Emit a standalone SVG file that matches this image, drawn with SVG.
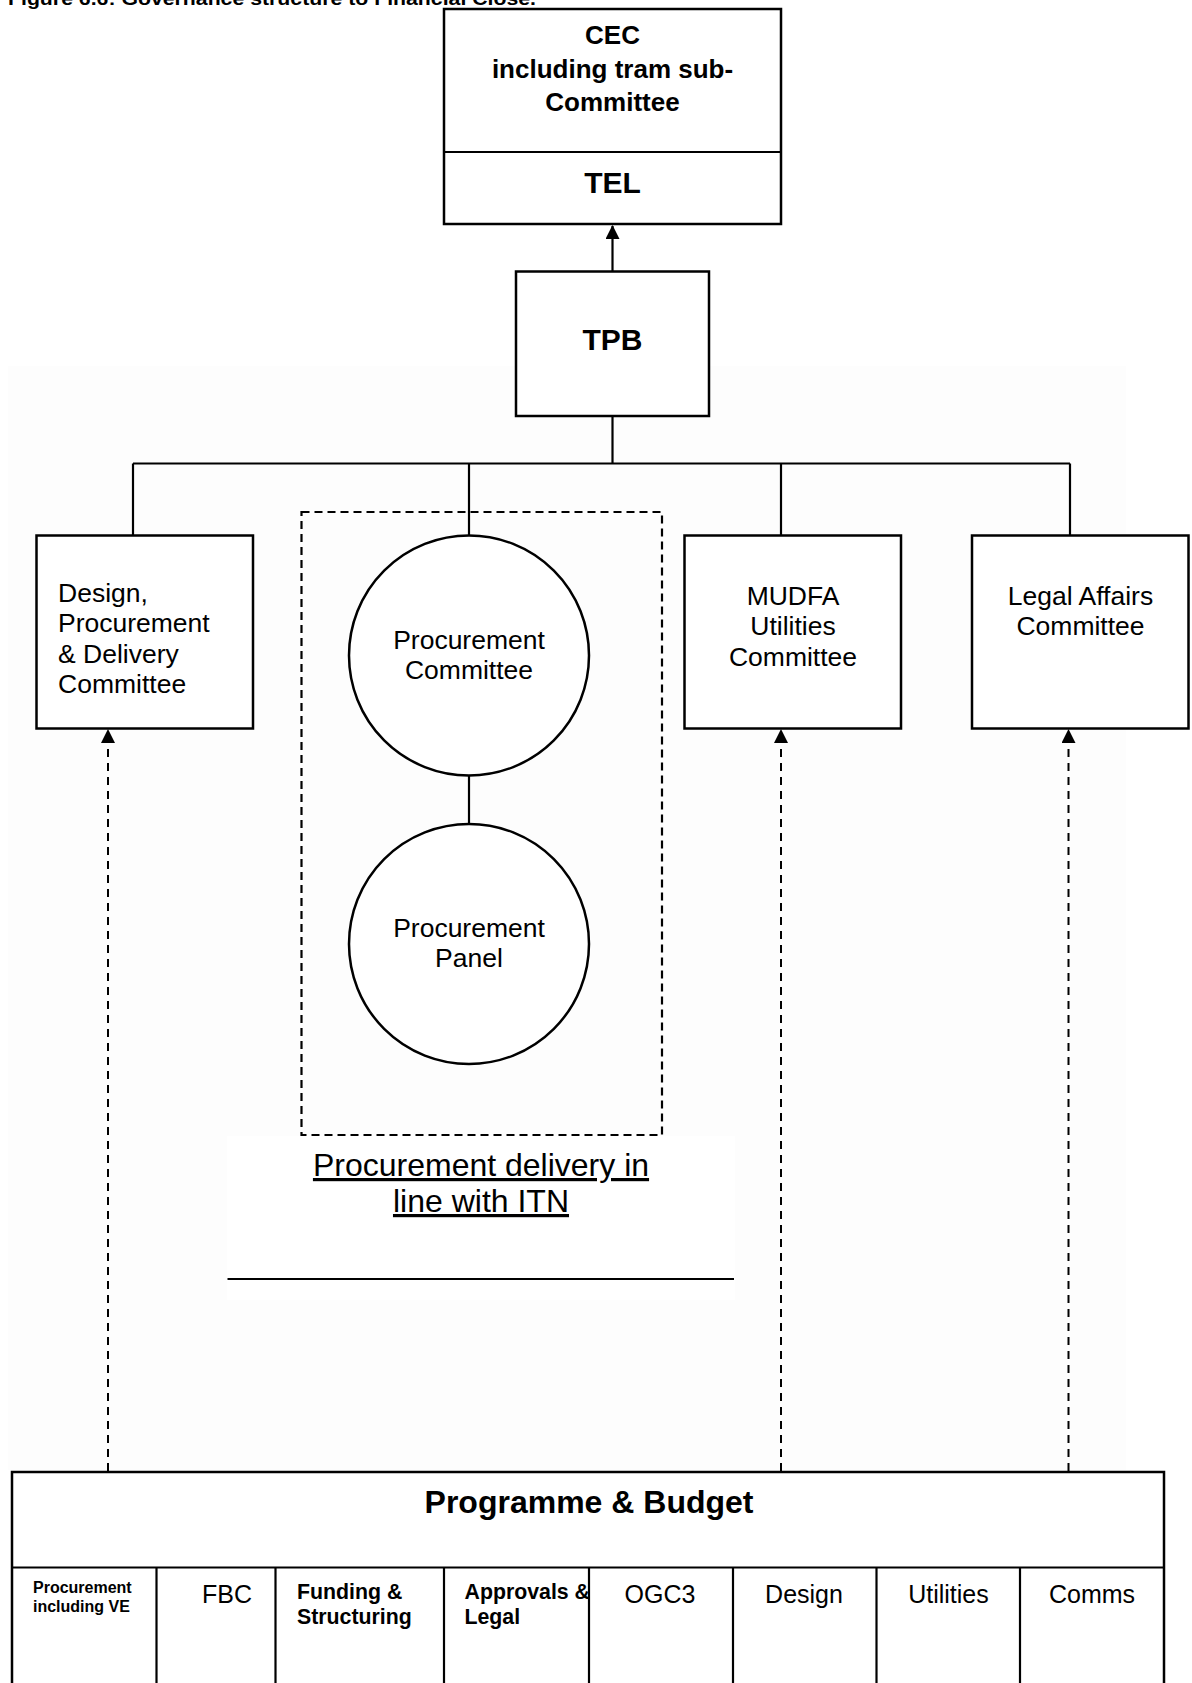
<svg xmlns="http://www.w3.org/2000/svg" width="1192" height="1683" viewBox="0 0 1192 1683">
  <style>
    .box { fill: #ffffff; stroke: #000000; stroke-width: 2.5; }
    .ln { fill: none; stroke: #000000; stroke-width: 2.2; }
    .dash { fill: none; stroke: #000000; stroke-width: 2; stroke-dasharray: 8 6; }
    .dbox { fill: none; stroke: #000000; stroke-width: 2.2; stroke-dasharray: 8 5; }
    .t { font-family: "Liberation Sans", Arial, sans-serif; fill: #000000; }
    .b { font-weight: bold; }
    .c { text-anchor: middle; }
  </style>
  <defs>
    <marker id="arr" markerUnits="userSpaceOnUse" markerWidth="14" markerHeight="14" viewBox="0 0 14 14" refX="13" refY="7" orient="auto">
      <path d="M0,0 L14,7 L0,14 z" fill="#000000"/>
    </marker>
  </defs>
  <rect x="0" y="0" width="1192" height="1683" fill="#ffffff"/>
  <rect x="8" y="366" width="1118" height="1104" fill="#fdfdfd"/>
  <rect x="227" y="1136" width="508" height="164" fill="#ffffff"/>

  <text class="t b" x="8" y="5" font-size="18" textLength="528" lengthAdjust="spacingAndGlyphs">Figure 6.6: Governance structure to Financial Close.</text>

  <g id="connectors">
    <line class="ln" x1="612.5" y1="271.5" x2="612.5" y2="226" marker-end="url(#arr)"/>
    <line class="ln" x1="612.5" y1="416" x2="612.5" y2="463.5"/>
    <line class="ln" x1="133" y1="463.5" x2="1070" y2="463.5"/>
    <line class="ln" x1="133" y1="463.5" x2="133" y2="535"/>
    <line class="ln" x1="469" y1="463.5" x2="469" y2="535.5"/>
    <line class="ln" x1="781" y1="463.5" x2="781" y2="535"/>
    <line class="ln" x1="1070" y1="463.5" x2="1070" y2="535"/>
    <line class="ln" x1="469" y1="775.5" x2="469" y2="824"/>
    <line class="dash" x1="108" y1="1471" x2="108" y2="730" marker-end="url(#arr)"/>
    <line class="dash" x1="781" y1="1471" x2="781" y2="730" marker-end="url(#arr)"/>
    <line class="dash" x1="1068.5" y1="1471" x2="1068.5" y2="730" marker-end="url(#arr)"/>
  </g>

  <g id="cec">
    <rect class="box" x="444" y="9" width="337" height="215"/>
    <line class="ln" x1="444" y1="152" x2="781" y2="152"/>
    <text class="t b c" x="612.5" y="44" font-size="26">CEC</text>
    <text class="t b c" x="612.5" y="78" font-size="26">including tram sub-</text>
    <text class="t b c" x="612.5" y="111" font-size="26">Committee</text>
  </g>
  <g id="tel">
    <text class="t b c" x="612.5" y="193" font-size="30">TEL</text>
  </g>

  <g id="tpb">
    <rect class="box" x="516" y="271.5" width="193" height="144.5"/>
    <text class="t b c" x="612.5" y="350" font-size="30">TPB</text>
  </g>

  <g id="design-committee">
    <rect class="box" x="36.5" y="535.5" width="216.5" height="193"/>
    <text class="t" x="58" y="602" font-size="26.5">Design,</text>
    <text class="t" x="58" y="632" font-size="26.5">Procurement</text>
    <text class="t" x="58" y="663" font-size="26.5">&amp; Delivery</text>
    <text class="t" x="58" y="693" font-size="26.5">Committee</text>
  </g>

  <g id="procurement-group">
    <rect class="dbox" x="301.5" y="512" width="360.5" height="623"/>
  </g>

  <g id="procurement-committee">
    <circle class="box" cx="469" cy="655.5" r="120"/>
    <text class="t c" x="469" y="649" font-size="26.5">Procurement</text>
    <text class="t c" x="469" y="679" font-size="26.5">Committee</text>
  </g>

  <g id="procurement-panel">
    <circle class="box" cx="469" cy="944" r="120"/>
    <text class="t c" x="469" y="937" font-size="26.5">Procurement</text>
    <text class="t c" x="469" y="967" font-size="26.5">Panel</text>
  </g>

  <g id="mudfa">
    <rect class="box" x="684.5" y="535.5" width="216.5" height="193"/>
    <text class="t c" x="793" y="605" font-size="26.5">MUDFA</text>
    <text class="t c" x="793" y="635" font-size="26.5">Utilities</text>
    <text class="t c" x="793" y="666" font-size="26.5">Committee</text>
  </g>

  <g id="legal">
    <rect class="box" x="972" y="535.5" width="216.5" height="193"/>
    <text class="t c" x="1080.5" y="605" font-size="26.5">Legal Affairs</text>
    <text class="t c" x="1080.5" y="635" font-size="26.5">Committee</text>
  </g>

  <g id="procurement-delivery-label">
    <text class="t c" x="481" y="1176" font-size="32" text-decoration="underline">Procurement delivery in</text>
    <text class="t c" x="481" y="1212" font-size="32" text-decoration="underline">line with ITN</text>
    <line class="ln" x1="227.5" y1="1279" x2="734" y2="1279"/>
  </g>

  <g id="programme-budget">
    <rect class="box" x="12" y="1472" width="1152" height="230"/>
    <line class="ln" x1="12" y1="1567.5" x2="1164" y2="1567.5"/>
    <text class="t b c" x="589" y="1513" font-size="32">Programme &amp; Budget</text>
    <line class="ln" x1="156.5" y1="1567.5" x2="156.5" y2="1683"/>
    <line class="ln" x1="275.5" y1="1567.5" x2="275.5" y2="1683"/>
    <line class="ln" x1="444" y1="1567.5" x2="444" y2="1683"/>
    <line class="ln" x1="589" y1="1567.5" x2="589" y2="1683"/>
    <line class="ln" x1="733" y1="1567.5" x2="733" y2="1683"/>
    <line class="ln" x1="876.5" y1="1567.5" x2="876.5" y2="1683"/>
    <line class="ln" x1="1020" y1="1567.5" x2="1020" y2="1683"/>
  </g>
  <g id="col-procurement">
    <text class="t b" x="33" y="1593" font-size="16">Procurement</text>
    <text class="t b" x="33" y="1612" font-size="16">including VE</text>
  </g>
  <g id="col-fbc">
    <text class="t c" x="227" y="1603" font-size="25">FBC</text>
  </g>
  <g id="col-funding">
    <text class="t b" x="297" y="1599" font-size="21.3">Funding &amp;</text>
    <text class="t b" x="297" y="1624" font-size="21.3">Structuring</text>
  </g>
  <g id="col-approvals">
    <text class="t b" x="464.5" y="1599" font-size="21.3">Approvals &amp;</text>
    <text class="t b" x="464.5" y="1624" font-size="21.3">Legal</text>
  </g>
  <g id="col-ogc3">
    <text class="t c" x="660" y="1603" font-size="25">OGC3</text>
  </g>
  <g id="col-design">
    <text class="t c" x="804" y="1603" font-size="25">Design</text>
  </g>
  <g id="col-utilities">
    <text class="t c" x="948.5" y="1603" font-size="25">Utilities</text>
  </g>
  <g id="col-comms">
    <text class="t c" x="1092" y="1603" font-size="25">Comms</text>
  </g>
</svg>
